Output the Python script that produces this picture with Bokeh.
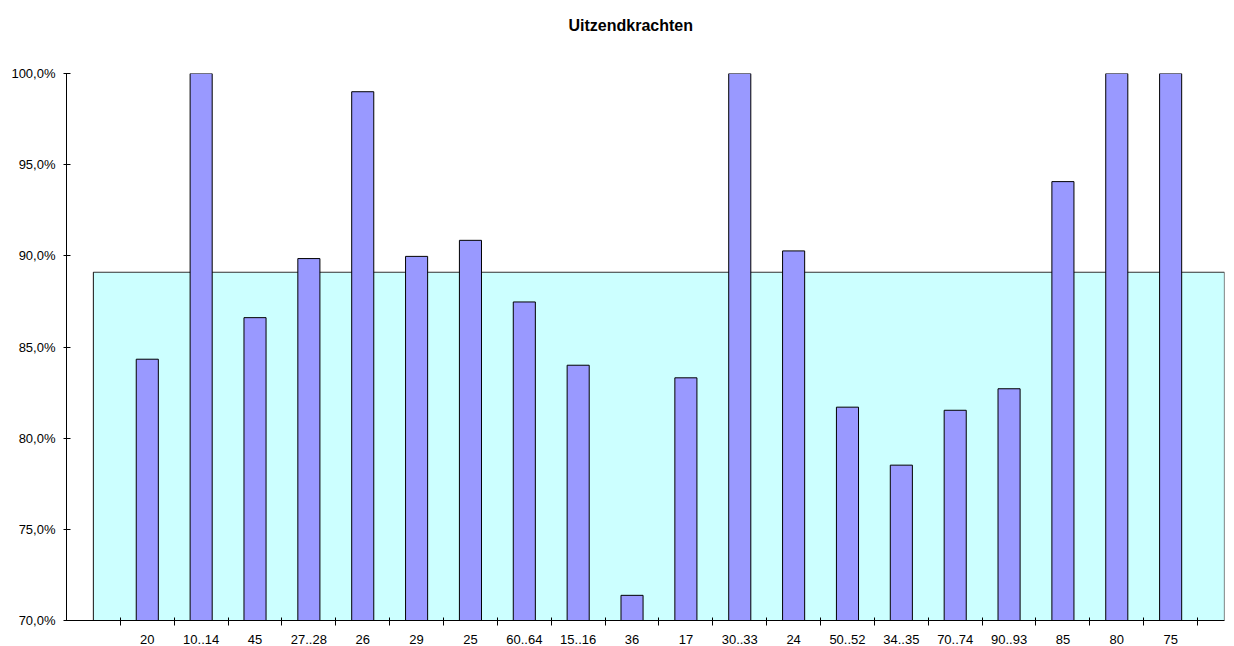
from bokeh.plotting import figure
from bokeh.models import Range1d, FixedTicker, LinearAxis
from bokeh.embed import file_html
from bokeh.resources import INLINE

# ---- data ----
categories = ["20", "10..14", "45", "27..28", "26", "29", "25", "60..64", "15..16", "36",
              "17", "30..33", "24", "50..52", "34..35", "70..74", "90..93", "85", "80", "75"]
aandeel = [84.33, 100.0, 86.61, 89.85, 99.0, 89.97, 90.85, 87.47, 84.0, 71.38,
           83.31, 100.0, 90.27, 81.7, 78.52, 81.53, 82.71, 94.07, 100.0, 100.0]
gemiddelde = 89.1
y_ticks = [70, 75, 80, 85, 90, 95, 100]
y_tick_labels = ["70,0%", "75,0%", "80,0%", "85,0%", "90,0%", "95,0%", "100,0%"]
title_text = "Uitzendkrachten"

FONT = "Liberation Sans"

n = len(categories)
positions = list(range(1, n + 1))
boundaries = [p_ - 0.5 for p_ in positions] + [n + 0.5]
y_min, y_max = y_ticks[0], y_ticks[-1]

p = figure(width=1234, height=646, output_backend="svg", toolbar_location=None,
           x_range=Range1d(-0.5, n + 1), y_range=Range1d(y_min, y_max),
           min_border_left=66, min_border_right=10, min_border_top=73, min_border_bottom=26)

p.outline_line_color = None
p.xgrid.visible = False
p.ygrid.visible = False
p.background_fill_color = "white"
p.border_fill_color = "white"

# average area (spans from the blank first slot to the blank last slot)
area_x = [0, n + 1]
p.varea(x=area_x, y1=[y_min, y_min], y2=[gemiddelde, gemiddelde], fill_color="#CCFFFF")
p.line(x=[area_x[0], area_x[0], area_x[1], area_x[1]],
       y=[y_min, gemiddelde, gemiddelde, y_min], line_color="#333333", line_width=1.2)

# bars
p.vbar(x=positions, top=aandeel, bottom=y_min, width=0.41,
       fill_color="#9999FF", line_color="black", line_width=1)

# x axis
xa = p.xaxis[0]
xa.ticker = FixedTicker(ticks=positions, minor_ticks=boundaries)
xa.major_label_overrides = {pos: lab for pos, lab in zip(positions, categories)}
xa.major_tick_line_color = None
xa.major_tick_in = 0
xa.major_tick_out = 0
xa.minor_tick_line_color = "black"
xa.minor_tick_in = 3
xa.minor_tick_out = 5
xa.axis_line_color = "black"
xa.major_label_standoff = 9
xa.major_label_text_font = FONT
xa.major_label_text_font_size = "13px"
xa.major_label_text_color = "black"

# y axis
ya = p.yaxis[0]
ya.ticker = FixedTicker(ticks=y_ticks, minor_ticks=[])
ya.major_label_overrides = {t: lab for t, lab in zip(y_ticks, y_tick_labels)}
ya.major_tick_in = 4
ya.major_tick_out = 3
ya.major_tick_line_color = "black"
ya.minor_tick_line_color = None
ya.axis_line_color = "black"
ya.major_label_standoff = 8
ya.major_label_text_font = FONT
ya.major_label_text_font_size = "13px"
ya.major_label_text_color = "black"

# invisible spacer axis above the plot area, so the title sits higher up
spacer = LinearAxis(ticker=FixedTicker(ticks=[positions[n // 2]], minor_ticks=[]),
                    axis_line_color=None, major_tick_line_color=None,
                    minor_tick_line_color=None, major_tick_in=0, major_tick_out=38,
                    minor_tick_out=0, major_label_standoff=0,
                    major_label_text_color=None, major_label_text_font_size="1px")
p.add_layout(spacer, "above")

# title
p.title.text = title_text
p.title.text_font = FONT
p.title.text_font_size = "16px"
p.title.text_font_style = "bold"
p.title.text_color = "black"
p.title.align = "left"
p.title.vertical_align = "top"
p.title.offset = 502
p.title.standoff = 0

open("out.html", "w").write(file_html(p, INLINE))
